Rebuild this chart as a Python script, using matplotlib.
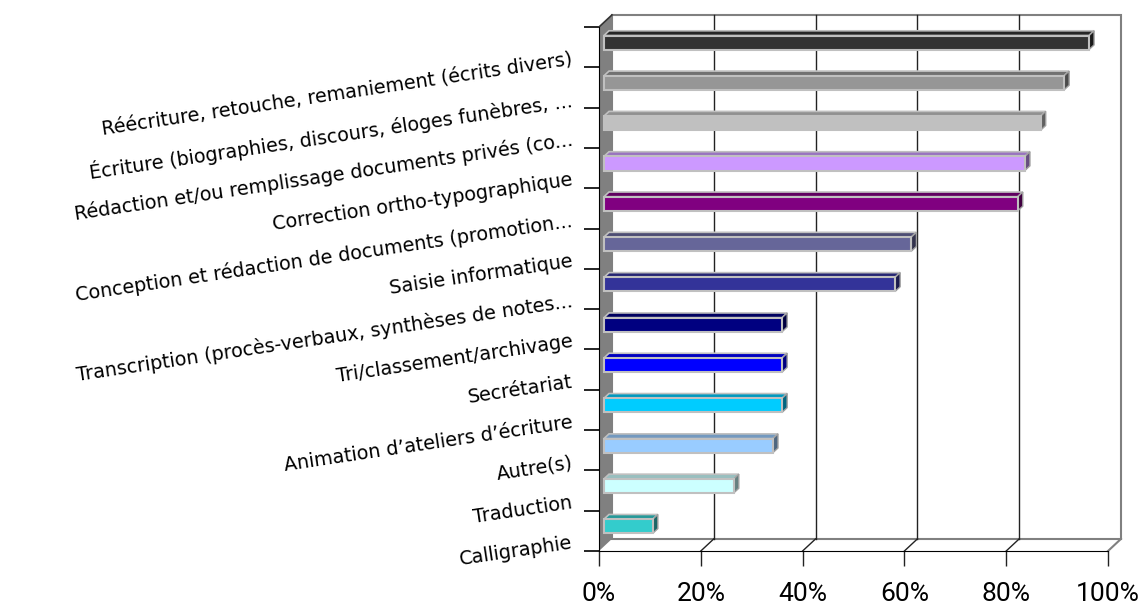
import matplotlib
matplotlib.use("Agg")
import matplotlib.pyplot as plt
from matplotlib.patches import Polygon
from matplotlib.colors import to_rgb
import numpy as np

# categories top to bottom
categories = [
    "Réécriture, retouche, remaniement (écrits divers)",
    "Écriture (biographies, discours, éloges funèbres, ...",
    "Rédaction et/ou remplissage documents privés (co...",
    "Correction ortho-typographique",
    "Conception et rédaction de documents (promotion...",
    "Saisie informatique",
    "Transcription (procès-verbaux, synthèses de notes...",
    "Tri/classement/archivage",
    "Secrétariat",
    "Animation d’ateliers d’écriture",
    "Autre(s)",
    "Traduction",
    "Calligraphie",
]
values = [95.3, 90.4, 85.8, 82.7, 81.3, 60.4, 57.2, 35.0, 35.0, 35.0, 33.2, 25.5, 9.6]
colors = ["#333333", "#969696", "#C0C0C0", "#CC99FF", "#800080", "#666699", "#333399",
          "#000080", "#0000FF", "#00CCFF", "#99CCFF", "#CCFFFF", "#33CCCC"]
xticks = [0, 20, 40, 60, 80, 100]

n = len(categories)
# depth offset of the 3d box, in data units (x: percent, y: category)
kx, ky = 2.55, 0.30
f1, f2 = 0.38, 0.77     # bar front / back depth
h = 0.175               # half bar height


def shade(c, f):
    return tuple(np.array(to_rgb(c)) * f)


fig = plt.figure(figsize=(11.42, 6.08), dpi=100)
ax = fig.add_axes([599 / 1142, 57 / 608, 509 / 1142, 524 / 608])
ax.set_xlim(0, 100)
ax.set_ylim(-0.5, n - 0.5)

y0, y1 = -0.5, n - 0.5

# back wall
ax.add_patch(Polygon([(kx, y0 + ky), (100 + kx, y0 + ky), (100 + kx, y1 + ky), (kx, y1 + ky)],
                     closed=True, facecolor="white", edgecolor="#808080", lw=1.5,
                     clip_on=False, zorder=0))
# gridlines on back wall and floor
for t in xticks[1:-1]:
    ax.plot([t + kx, t + kx], [y0 + ky, y1 + ky], color="#222222", lw=1, clip_on=False, zorder=1)
    ax.plot([t, t + kx], [y0, y0 + ky], color="#222222", lw=1, clip_on=False, zorder=1)
# floor right edge
ax.plot([100, 100 + kx], [y0, y0 + ky], color="#808080", lw=1.5, clip_on=False, zorder=1)
# left wall
ax.add_patch(Polygon([(0, y0), (kx, y0 + ky), (kx, y1 + ky), (0, y1)], closed=True,
                     facecolor="#808080", edgecolor="none", clip_on=False, zorder=1))
ax.plot([0, kx], [y1, y1 + ky], color="#333333", lw=1.2, clip_on=False, zorder=2)

# bars, bottom category at y=0
ypos = np.arange(n)[::-1]
for y, v, c in zip(ypos, values, colors):
    yc = y + f1 * ky
    ax.barh(yc, v, left=f1 * kx, height=2 * h, color=c, edgecolor="#C0C0C0",
            lw=1.5, zorder=4)
    top = [(f1 * kx, yc + h), (v + f1 * kx, yc + h),
           (v + f2 * kx, y + f2 * ky + h), (f2 * kx, y + f2 * ky + h)]
    ax.add_patch(Polygon(top, closed=True, facecolor=shade(c, 0.75), edgecolor="#C0C0C0",
                         lw=1.2, zorder=3))
    side = [(v + f1 * kx, yc - h), (v + f1 * kx, yc + h),
            (v + f2 * kx, y + f2 * ky + h), (v + f2 * kx, y + f2 * ky - h)]
    ax.add_patch(Polygon(side, closed=True, facecolor=shade(c, 0.5), edgecolor="#A0A0A0",
                         lw=1.0, zorder=3))

# axes
for s in ["top", "right"]:
    ax.spines[s].set_visible(False)
ax.spines["left"].set_color("black")
ax.spines["bottom"].set_color("black")
ax.spines["left"].set_zorder(5)
ax.spines["bottom"].set_zorder(5)
ax.set_xticks(xticks)
ax.set_xticklabels([f"{t}%" for t in xticks], fontsize=19, family="Roboto")
ax.set_yticks(np.arange(-0.5, n, 1.0))
ax.set_yticklabels([])
ax.tick_params(axis="x", length=10.5, width=1, pad=12, color="#222222")
ax.tick_params(axis="y", length=10.5, width=1.2, color="black")
ax.set_facecolor("none")

# rotated category labels
for y, lab in zip(ypos, categories):
    ax.text(-5.2, y - 0.3, lab, ha="right", va="center", rotation=8.5,
            rotation_mode="anchor", fontsize=13.8, family="DejaVu Sans",
            clip_on=False)

fig.savefig("out.png", dpi=100)
